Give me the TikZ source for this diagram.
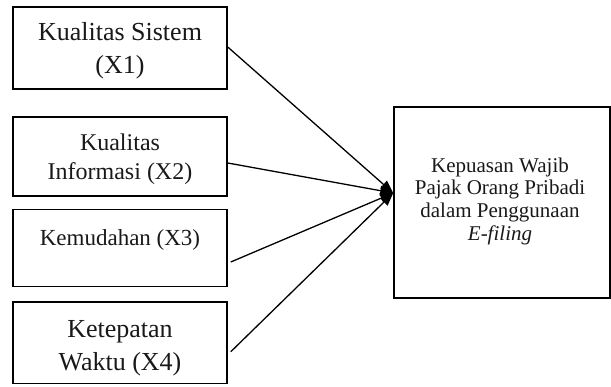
\documentclass[tikz,border=0pt]{standalone}
\usepackage{fontspec}
\setmainfont{Liberation Serif}
\usetikzlibrary{arrows.meta}
\begin{document}
\begin{tikzpicture}[x=1pt,y=-1pt,
  box/.style={draw=black, line width=1.5pt, rectangle, inner sep=0pt, fill=white},
  txt/.style={align=center, inner sep=0pt, text=black!90},
  conn/.style={line width=1.3pt, -{Triangle[length=13pt,width=10pt]}}]
\useasboundingbox (0,0) rectangle (611,386);
\node[box, minimum width=214pt, minimum height=82pt] (b1) at (120,48) {};
\node[box, minimum width=214pt, minimum height=79pt] (b2) at (120,156.5) {};
\node[box, minimum width=214pt, minimum height=77pt] (b3) at (120,248) {};
\node[box, minimum width=214pt, minimum height=81.5pt] (b4) at (120,342.75) {};
\node[box, minimum width=216pt, minimum height=191pt] (r) at (502,202.5) {};
\node[txt, font=\fontsize{26}{33}\selectfont] (t1) at (120,51) {Kualitas Sistem\\(X1)};
\node[txt, font=\fontsize{24}{29}\selectfont] (t2) at (120,159) {Kualitas\\Informasi (X2)};
\node[txt, font=\fontsize{23}{28}\selectfont] (t3) at (120,240) {Kemudahan (X3)};
\node[txt, font=\fontsize{26}{33}\selectfont] (t4) at (120,348) {Ketepatan\\Waktu (X4)};
\node[txt, font=\fontsize{21}{22.7}\selectfont] (t5) at (500,201) {Kepuasan Wajib\\Pajak Orang Pribadi\\dalam Penggunaan\\\textit{E-filing}};
\coordinate (tip) at ([yshift=9.5pt]r.west);
\draw[conn] ([yshift=1pt]b1.east) -- (tip);
\draw[conn] ([yshift=-6.5pt]b2.east) -- (tip);
\draw[conn] ([xshift=3pt,yshift=-14pt]b3.east) -- (tip);
\draw[conn] ([xshift=3pt,yshift=-9pt]b4.east) -- (tip);
\end{tikzpicture}
\end{document}
